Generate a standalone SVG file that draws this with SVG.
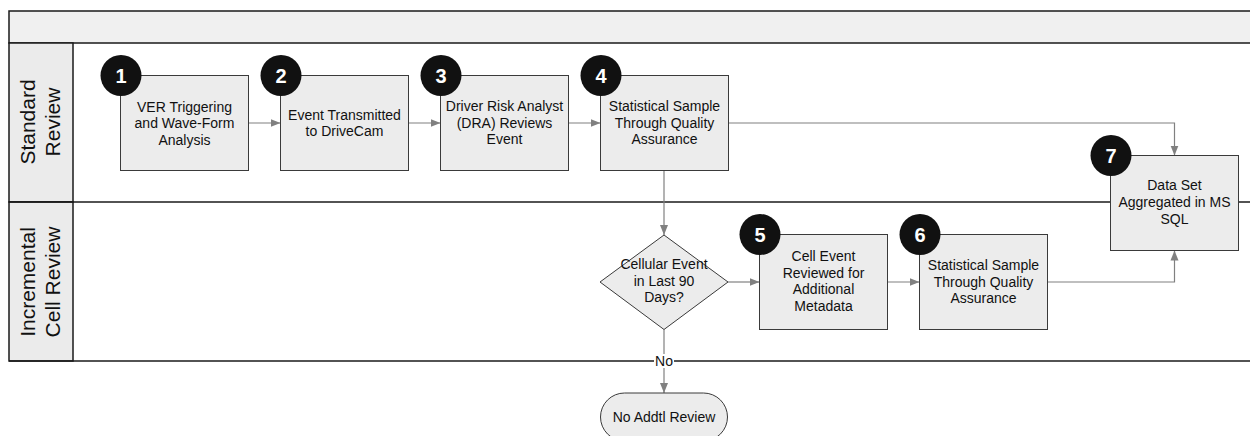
<svg xmlns="http://www.w3.org/2000/svg" width="1250" height="436" viewBox="0 0 1250 436">
<style>
.frame{fill:none;stroke:#1a1a1a;stroke-width:1.5}
.hdr{fill:#f0f0f0;stroke:#1a1a1a;stroke-width:1.5}
.lab{fill:#ebebeb;stroke:#1a1a1a;stroke-width:1.5}
.node{fill:#ececec;stroke:#3a3a3a;stroke-width:1}
.badge{fill:#111111}
.num{font-family:"Liberation Sans",Arial,sans-serif;font-size:20px;font-weight:bold;fill:#ffffff;text-anchor:middle}
.t{font-family:"Liberation Sans",Arial,sans-serif;font-size:14px;fill:#111111;text-anchor:middle}
.lt{font-family:"Liberation Sans",Arial,sans-serif;font-size:21px;fill:#111111;text-anchor:middle}
.conn{fill:none;stroke:#808080;stroke-width:1.2}
</style>
<defs>
<marker id="arr" markerUnits="userSpaceOnUse" markerWidth="10" markerHeight="10" viewBox="0 0 10 10" refX="10" refY="5" orient="auto">
<path d="M0,1 L10,5 L0,9 Z" fill="#808080"/>
</marker>
</defs>
<rect x="0" y="0" width="1250" height="436" fill="#ffffff"/>
<g id="pool">
<rect class="hdr" x="9" y="11" width="1250" height="32"/>
<rect class="lab" x="9" y="43" width="64" height="159"/>
<rect class="lab" x="9" y="202" width="64" height="159"/>
<line class="frame" x1="9" y1="202" x2="1250" y2="202"/>
<line class="frame" x1="9" y1="361" x2="1250" y2="361"/>
<text class="lt" transform="translate(41,122) rotate(-90)"><tspan x="0" y="-6">Standard</tspan><tspan x="0" y="19">Review</tspan></text>
<text class="lt" transform="translate(41,282) rotate(-90)"><tspan x="0" y="-6">Incremental</tspan><tspan x="0" y="19">Cell Review</tspan></text>
</g>
<g id="connectors">
<line class="conn" x1="248.5" y1="123" x2="280.5" y2="123" marker-end="url(#arr)"/>
<line class="conn" x1="408.5" y1="123" x2="440.5" y2="123" marker-end="url(#arr)"/>
<line class="conn" x1="568.5" y1="123" x2="600.5" y2="123" marker-end="url(#arr)"/>
<polyline class="conn" points="728.5,123 1174.5,123 1174.5,155.5" marker-end="url(#arr)"/>
<line class="conn" x1="664" y1="170.5" x2="664" y2="235" marker-end="url(#arr)"/>
<line class="conn" x1="728" y1="282" x2="759.5" y2="282" marker-end="url(#arr)"/>
<line class="conn" x1="887.5" y1="282" x2="919.5" y2="282" marker-end="url(#arr)"/>
<polyline class="conn" points="1047.5,282 1174.5,282 1174.5,250.5" marker-end="url(#arr)"/>
<line class="conn" x1="664" y1="329.5" x2="664" y2="393" marker-end="url(#arr)"/>
<rect x="654" y="354" width="20" height="14" fill="#ffffff"/>
<text class="t" x="664" y="366">No</text>
</g>
<g id="n1">
<rect class="node" x="120.5" y="75.5" width="128" height="95"/>
<text class="t"><tspan x="184.5" y="111.5">VER Triggering</tspan><tspan x="184.5" y="128">and Wave-Form</tspan><tspan x="184.5" y="144.5">Analysis</tspan></text>
<circle class="badge" cx="121" cy="75.5" r="20.5"/>
<text class="num" x="121" y="82.5">1</text>
</g>
<g id="n2">
<rect class="node" x="280.5" y="75.5" width="128" height="95"/>
<text class="t"><tspan x="344.5" y="119.5">Event Transmitted</tspan><tspan x="344.5" y="136">to DriveCam</tspan></text>
<circle class="badge" cx="281" cy="75.5" r="20.5"/>
<text class="num" x="281" y="82.5">2</text>
</g>
<g id="n3">
<rect class="node" x="440.5" y="75.5" width="128" height="95"/>
<text class="t"><tspan x="504.5" y="111">Driver Risk Analyst</tspan><tspan x="504.5" y="127.5">(DRA) Reviews</tspan><tspan x="504.5" y="144">Event</tspan></text>
<circle class="badge" cx="441" cy="75.5" r="20.5"/>
<text class="num" x="441" y="82.5">3</text>
</g>
<g id="n4">
<rect class="node" x="600.5" y="75.5" width="128" height="95"/>
<text class="t"><tspan x="664.5" y="111">Statistical Sample</tspan><tspan x="664.5" y="127.5">Through Quality</tspan><tspan x="664.5" y="144">Assurance</tspan></text>
<circle class="badge" cx="601" cy="75.5" r="20.5"/>
<text class="num" x="601" y="82.5">4</text>
</g>
<g id="decision">
<polygon class="node" points="664,235 728,282 664,329.5 600,282"/>
<text class="t"><tspan x="664" y="269">Cellular Event</tspan><tspan x="664" y="285.5">in Last 90</tspan><tspan x="664" y="302">Days?</tspan></text>
</g>
<g id="n5">
<rect class="node" x="759.5" y="234.5" width="128" height="95"/>
<text class="t"><tspan x="823.5" y="261">Cell Event</tspan><tspan x="823.5" y="277.5">Reviewed for</tspan><tspan x="823.5" y="294">Additional</tspan><tspan x="823.5" y="311">Metadata</tspan></text>
<circle class="badge" cx="760" cy="234.5" r="20.5"/>
<text class="num" x="760" y="241.5">5</text>
</g>
<g id="n6">
<rect class="node" x="919.5" y="234.5" width="128" height="95"/>
<text class="t"><tspan x="983.5" y="270">Statistical Sample</tspan><tspan x="983.5" y="286.5">Through Quality</tspan><tspan x="983.5" y="303">Assurance</tspan></text>
<circle class="badge" cx="920" cy="234.5" r="20.5"/>
<text class="num" x="920" y="241.5">6</text>
</g>
<g id="n7">
<rect class="node" x="1110.5" y="155.5" width="128" height="95"/>
<text class="t"><tspan x="1174.5" y="190">Data Set</tspan><tspan x="1174.5" y="207">Aggregated in MS</tspan><tspan x="1174.5" y="224">SQL</tspan></text>
<circle class="badge" cx="1111" cy="155.5" r="20.5"/>
<text class="num" x="1111" y="162.5">7</text>
</g>
<g id="terminator">
<rect class="node" x="600.5" y="393" width="127" height="48" rx="24" ry="24"/>
<text class="t" x="664" y="421.5">No Addtl Review</text>
</g>
</svg>
